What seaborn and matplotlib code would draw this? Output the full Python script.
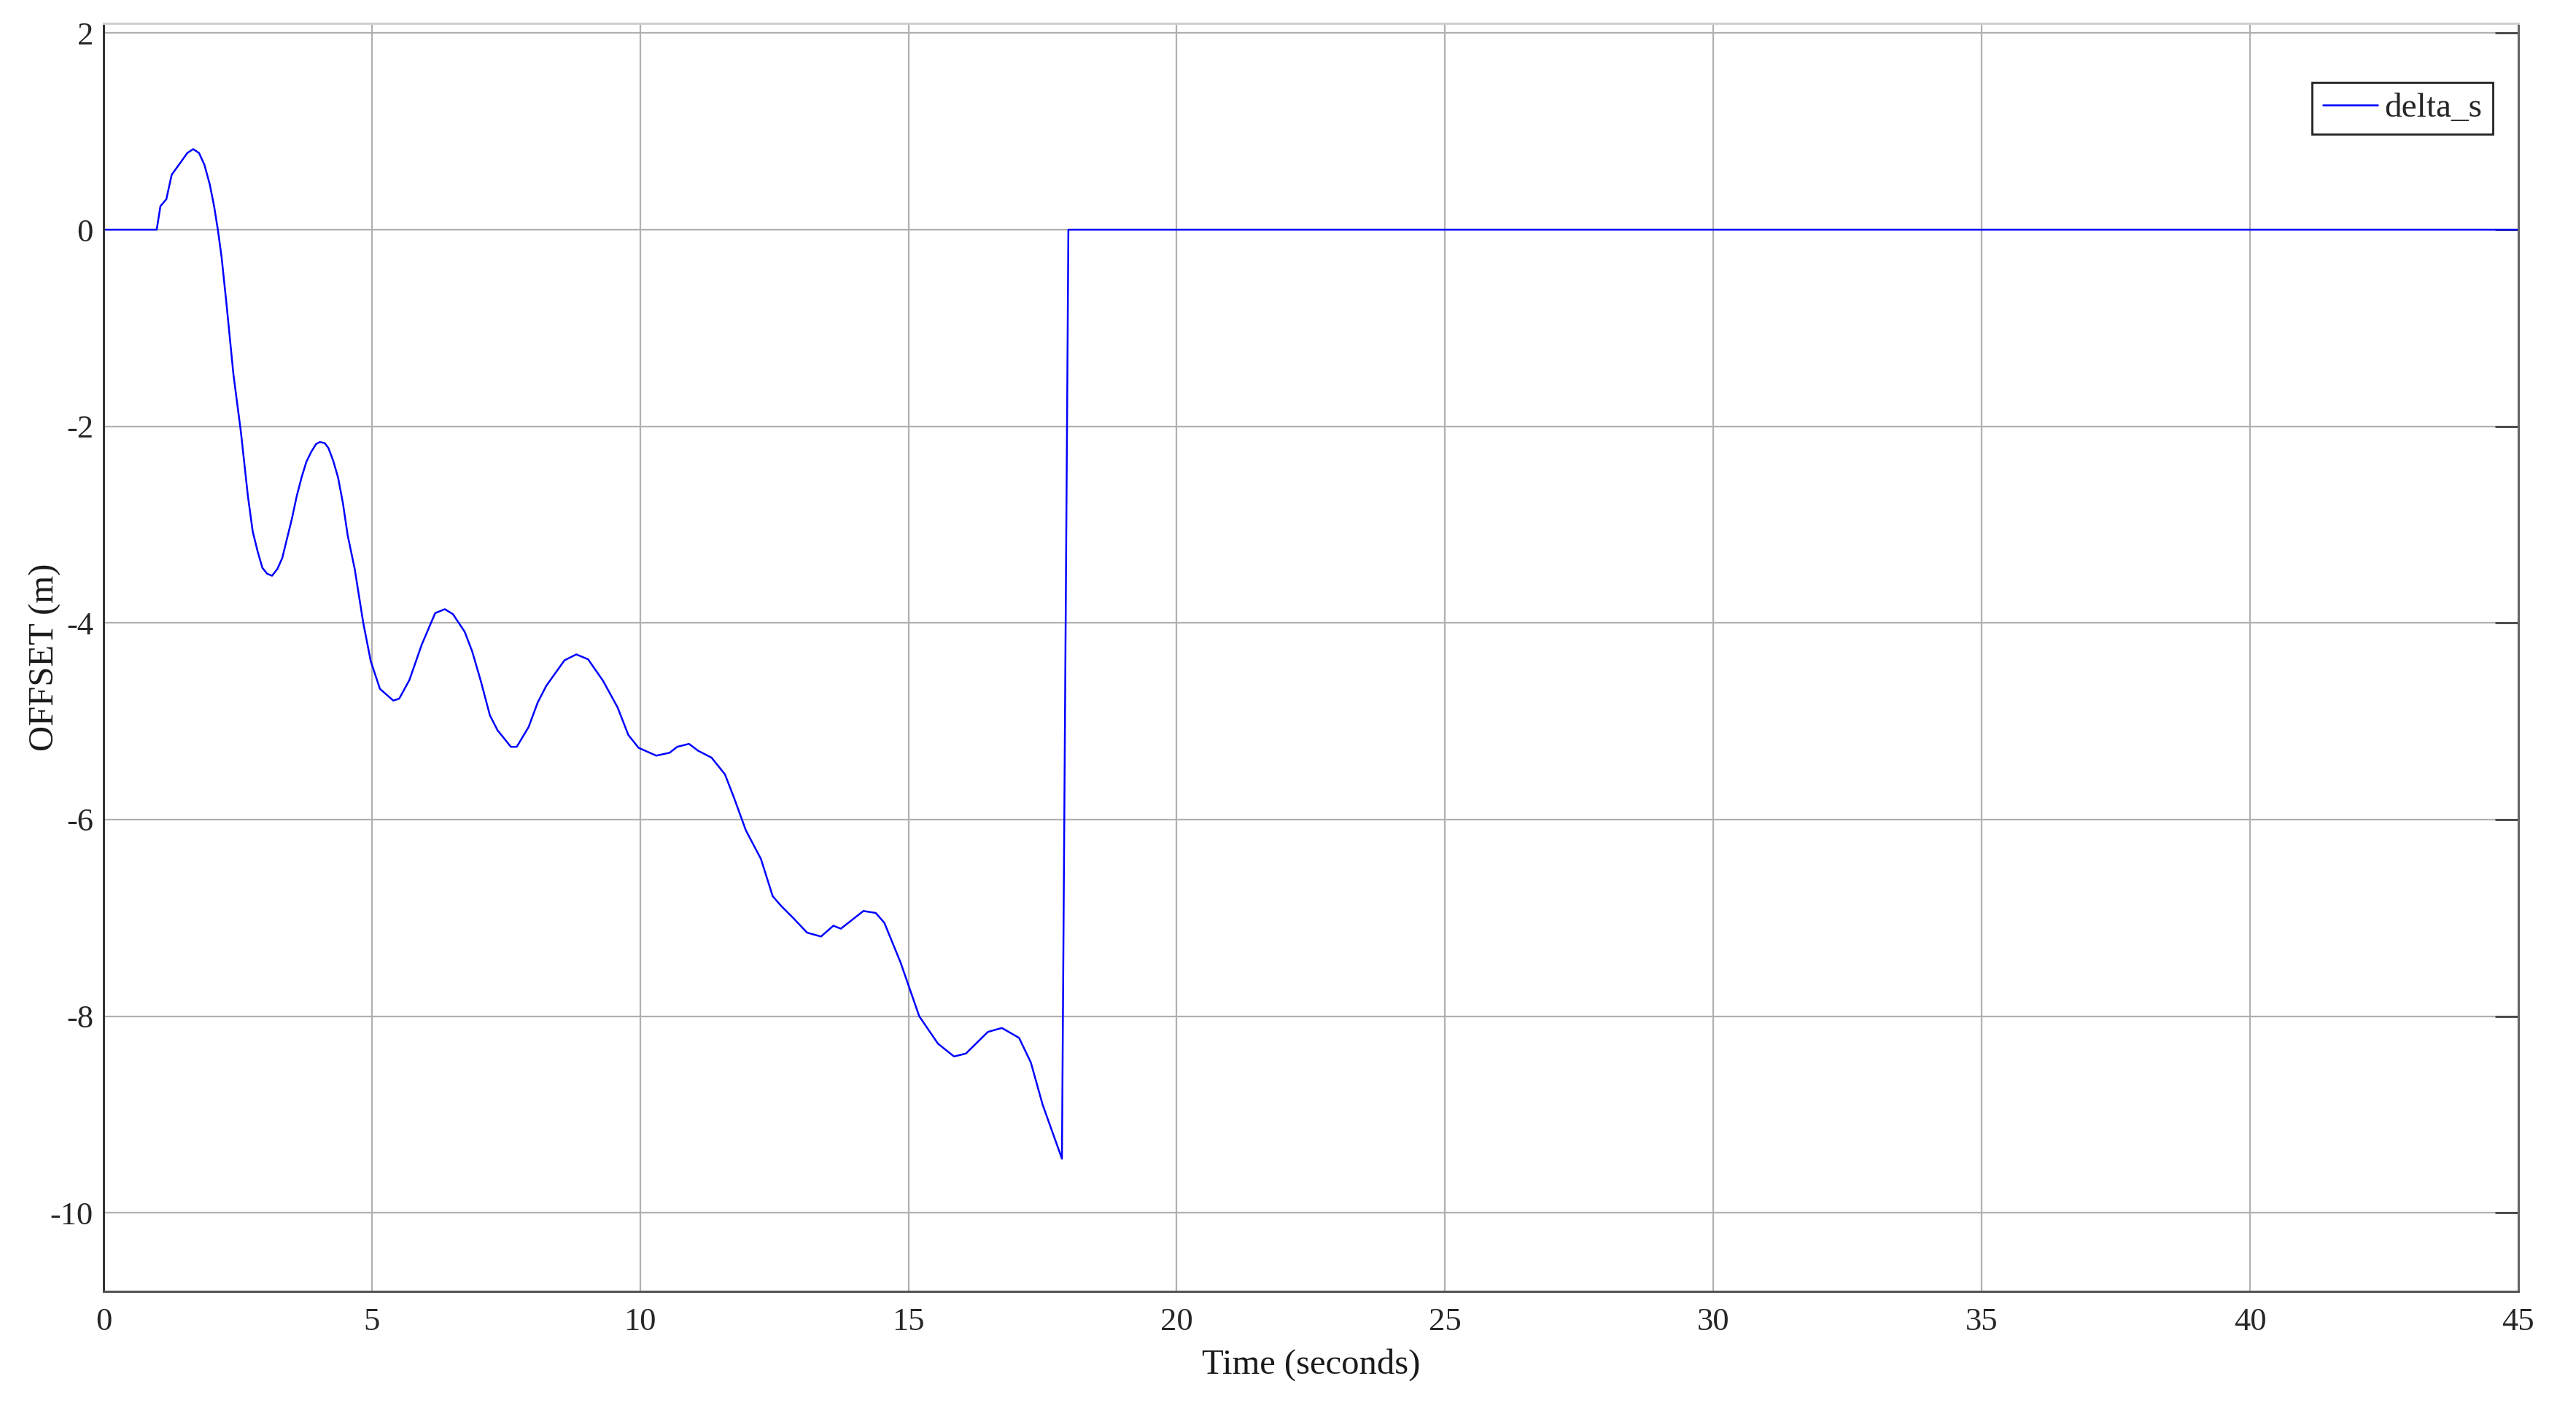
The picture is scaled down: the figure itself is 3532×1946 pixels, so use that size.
# Offset (delta_s) against time, redrawn with seaborn

import matplotlib
matplotlib.use('Agg')
import matplotlib.pyplot as plt
import numpy as np
import seaborn as sns

# values
time_s = [0, 0.99, 1.06, 1.17, 1.27, 1.43, 1.56, 1.67, 1.78, 1.88, 1.98, 2.06, 2.13, 2.20,
          2.29, 2.42, 2.56, 2.69, 2.78, 2.87, 2.96, 3.05, 3.14, 3.24, 3.33, 3.42, 3.51, 3.60,
          3.69, 3.78, 3.87, 3.96, 4.03, 4.12, 4.19, 4.28, 4.37, 4.46, 4.55, 4.68, 4.84, 4.98,
          5.15, 5.40, 5.51, 5.70, 5.93, 6.18, 6.36, 6.51, 6.73, 6.87, 7.03, 7.20, 7.34, 7.59,
          7.70, 7.92, 8.09, 8.25, 8.59, 8.81, 9.03, 9.31, 9.58, 9.78, 9.97, 10.30, 10.55,
          10.69, 10.91, 11.08, 11.33, 11.58, 11.75, 11.97, 12.25, 12.47, 12.63, 12.85, 13.11,
          13.37, 13.60, 13.74, 14.16, 14.39, 14.55, 14.85, 15.20, 15.55, 15.85, 16.07, 16.48,
          16.74, 17.06, 17.28, 17.50, 17.86, 17.98, 45]
delta_s = [0, 0, 0.24, 0.31, 0.56, 0.68, 0.78, 0.82, 0.78, 0.66, 0.46, 0.24, 0, -0.28,
           -0.75, -1.47, -2.06, -2.71, -3.07, -3.27, -3.44, -3.50, -3.52, -3.45, -3.34, -3.14,
           -2.94, -2.71, -2.52, -2.36, -2.26, -2.18, -2.16, -2.17, -2.22, -2.35, -2.52, -2.78,
           -3.11, -3.45, -4.0, -4.39, -4.67, -4.79, -4.77, -4.58, -4.22, -3.90, -3.86, -3.91,
           -4.09, -4.29, -4.59, -4.94, -5.09, -5.26, -5.26, -5.06, -4.81, -4.64, -4.38, -4.32,
           -4.37, -4.59, -4.86, -5.14, -5.27, -5.35, -5.32, -5.26, -5.23, -5.30, -5.37, -5.54,
           -5.78, -6.11, -6.40, -6.78, -6.88, -7.0, -7.15, -7.19, -7.08, -7.11, -6.93, -6.95,
           -7.05, -7.45, -8.0, -8.28, -8.41, -8.38, -8.16, -8.12, -8.22, -8.47, -8.90, -9.45,
           0, 0]

x_ticks = [0, 5, 10, 15, 20, 25, 30, 35, 40, 45]
y_ticks = [-10, -8, -6, -4, -2, 0, 2]

sns.set_style('white')
plt.rcParams['font.family'] = ['Liberation Serif', 'DejaVu Serif']
plt.rcParams['axes.unicode_minus'] = False

fig = plt.figure(figsize=(35.32, 19.46), dpi=100)
ax = fig.add_axes([0.0402, 0.0899, 0.9374, 0.8937])

# the curve
sns.lineplot(x=time_s, y=delta_s, ax=ax, color='#0000ff', linewidth=1.8,
             estimator=None, sort=False, label='delta_s')

ax.set_xlim(0, 45)
ax.set_ylim(-10.8, 2.1)
ax.set_xticks(x_ticks)
ax.set_yticks(y_ticks)

# grid and frame, matlab look
ax.grid(True, color='#b0b0b0', linewidth=1.6)
ax.set_axisbelow(True)
for side, col in [('left', '#333333'), ('bottom', '#555555'),
                  ('right', '#666666'), ('top', '#d0d0d0')]:
    ax.spines[side].set_visible(True)
    ax.spines[side].set_color(col)
    ax.spines[side].set_linewidth(2.2)

ax.tick_params(axis='both', direction='in', length=23, width=2, color='#444444',
               labelsize=32, labelcolor='#262626', top=False, right=True)
ax.tick_params(axis='x', pad=16)
ax.tick_params(axis='y', pad=10)

ax.set_xlabel('Time (seconds)', fontsize=35, color='#1a1a1a')
ax.set_ylabel('OFFSET (m)', fontsize=35, color='#1a1a1a')
ax.xaxis.set_label_coords(0.5, -0.045)
ax.yaxis.set_label_coords(-0.0175, 0.5)

leg = ax.legend(loc='upper right', bbox_to_anchor=(0.9894, 0.9534), borderaxespad=0,
                fontsize=34, frameon=True, fancybox=False, framealpha=1,
                handlelength=1.6, handletextpad=0.2, borderpad=0.3)
leg.get_frame().set_edgecolor('#222222')
leg.get_frame().set_linewidth(2)

fig.savefig('out.png', dpi=100)
